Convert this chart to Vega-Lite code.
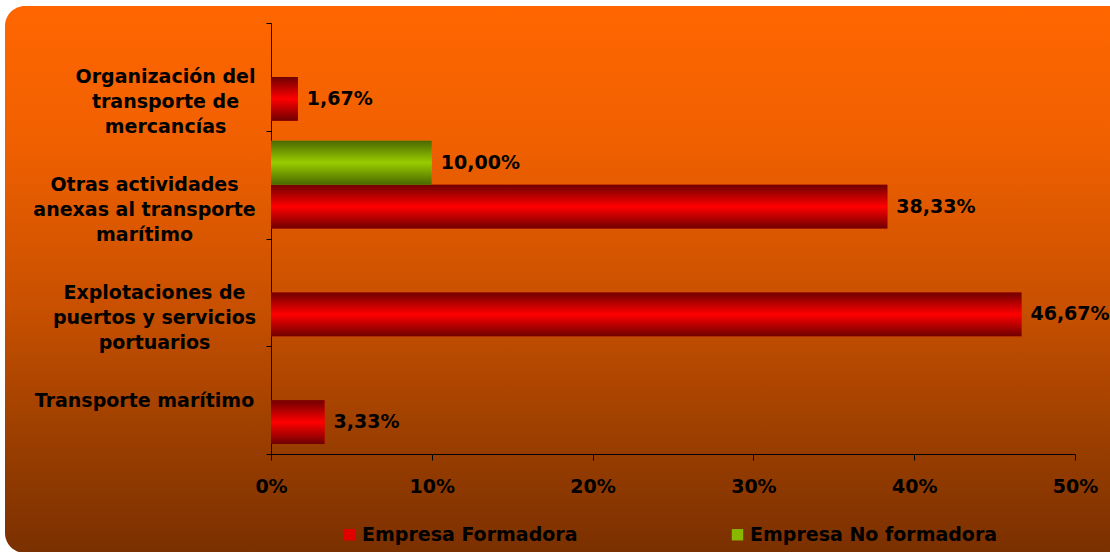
{
  "$schema": "https://vega.github.io/schema/vega-lite/v6.json",
  "width": 1140,
  "height": 547,
  "autosize": {"type": "none"},
  "padding": {"left": 5, "top": 6, "right": 0, "bottom": 0},
  "background": "white",
  "view": {
    "fill": {"gradient": "linear", "x1": 0, "y1": 0, "x2": 0, "y2": 1,
      "stops": [
        {"offset": 0, "color": "#ff6600"},
        {"offset": 0.25, "color": "#f06000"},
        {"offset": 0.55, "color": "#c85000"},
        {"offset": 0.8, "color": "#9a3e00"},
        {"offset": 1, "color": "#7a3000"}
      ]},
    "stroke": null,
    "cornerRadius": 20
  },
  "config": {
    "font": "DejaVu Sans",
    "locale": {"number": {"decimal": ",", "thousands": ".", "grouping": [3], "currency": ["", " €"]}}
  },
  "data": {
    "values": [
      {"cat": "Organización del|transporte de|mercancías", "serie": "Empresa Formadora", "value": 0.0167},
      {"cat": "Organización del|transporte de|mercancías", "serie": "Empresa No formadora", "value": 0},
      {"cat": "Otras actividades|anexas al transporte|marítimo", "serie": "Empresa Formadora", "value": 0.3833},
      {"cat": "Otras actividades|anexas al transporte|marítimo", "serie": "Empresa No formadora", "value": 0.1},
      {"cat": "Explotaciones de|puertos y servicios|portuarios", "serie": "Empresa Formadora", "value": 0.4667},
      {"cat": "Explotaciones de|puertos y servicios|portuarios", "serie": "Empresa No formadora", "value": 0},
      {"cat": "Transporte marítimo", "serie": "Empresa Formadora", "value": 0.0333},
      {"cat": "Transporte marítimo", "serie": "Empresa No formadora", "value": 0}
    ]
  },
  "encoding": {
    "y": {
      "field": "cat", "type": "nominal",
      "scale": {
        "domain": ["Organización del|transporte de|mercancías", "Otras actividades|anexas al transporte|marítimo", "Explotaciones de|puertos y servicios|portuarios", "Transporte marítimo"],
        "range": [17, 448], "paddingInner": 0, "paddingOuter": 0
      },
      "axis": {
        "title": null,
        "labelExpr": "split(datum.label, '|')",
        "labelAlign": "center",
        "labelBaseline": "middle",
        "labelFontSize": 19,
        "labelFontWeight": "bold",
        "labelColor": "black",
        "labelLineHeight": 25,
        "labelLimit": 0,
        "labelOverlap": false,
        "labelPadding": {
          "condition": [
            {"test": "datum.value === 'Organización del|transporte de|mercancías'", "value": 101},
            {"test": "datum.value === 'Explotaciones de|puertos y servicios|portuarios'", "value": 112}
          ],
          "value": 122
        },
        "tickBand": "extent",
        "tickSize": 5,
        "tickColor": "black",
        "domainColor": "black",
        "offset": -266,
        "grid": false
      }
    },
    "yOffset": {
      "field": "serie", "type": "nominal",
      "scale": {"domain": ["Empresa No formadora", "Empresa Formadora"], "paddingInner": 0, "paddingOuter": 0.2245}
    },
    "x": {
      "field": "value", "type": "quantitative",
      "scale": {"domain": [0, 0.5], "range": [266, 1070], "nice": false, "zero": true},
      "axis": {
        "title": null,
        "format": "%",
        "values": [0, 0.1, 0.2, 0.3, 0.4, 0.5],
        "labelFontSize": 19,
        "labelFontWeight": "bold",
        "labelColor": "black",
        "labelPadding": 17,
        "labelFlush": false,
        "tickSize": 6,
        "tickColor": "black",
        "domainColor": "black",
        "offset": -99,
        "grid": false
      }
    }
  },
  "layer": [
    {
      "mark": {"type": "bar"},
      "encoding": {
        "color": {
          "field": "serie", "type": "nominal",
          "scale": {
            "domain": ["Empresa Formadora", "Empresa No formadora"],
            "range": ["#e00000", "#88b800"]
          },
          "legend": {
            "orient": "none",
            "legendX": 335,
            "legendY": 519,
            "direction": "horizontal",
            "title": null,
            "symbolType": "square",
            "symbolSize": 130,
            "symbolStrokeWidth": 0,
            "symbolOpacity": 1,
            "labelFontSize": 19,
            "labelFontWeight": "bold",
            "labelColor": "black",
            "labelOffset": 3,
            "labelLimit": 0,
            "columnPadding": 150,
            "padding": 0
          }
        }
      }
    },
    {
      "mark": {"type": "bar"},
      "encoding": {
        "fill": {
          "condition": {
            "test": "datum.serie === 'Empresa Formadora'",
            "value": {"gradient": "linear", "x1": 0, "y1": 0, "x2": 0, "y2": 1,
              "stops": [{"offset": 0, "color": "#6e0000"}, {"offset": 0.5, "color": "#ff0000"}, {"offset": 1, "color": "#6e0000"}]}
          },
          "value": {"gradient": "linear", "x1": 0, "y1": 0, "x2": 0, "y2": 1,
            "stops": [{"offset": 0, "color": "#4a6800"}, {"offset": 0.5, "color": "#99cc00"}, {"offset": 1, "color": "#4a6800"}]}
        }
      }
    },
    {
      "transform": [{"filter": "datum.value > 0"}],
      "mark": {"type": "text", "align": "left", "baseline": "middle", "dx": 9, "fontSize": 19, "fontWeight": "bold", "color": "black"},
      "encoding": {
        "text": {"field": "value", "type": "quantitative", "format": ".2%"}
      }
    }
  ]
}
